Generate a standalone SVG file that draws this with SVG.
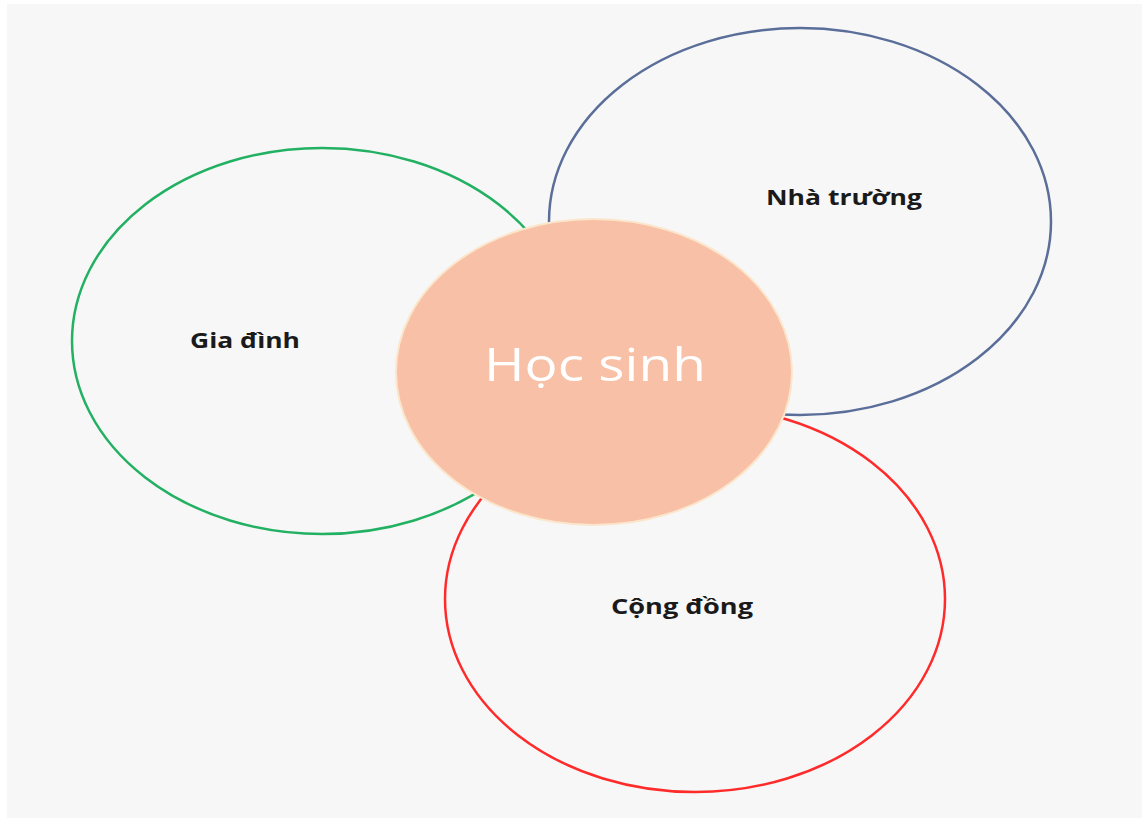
<svg xmlns="http://www.w3.org/2000/svg" width="1142" height="818" viewBox="0 0 1142 818">
<style>
.ring{fill:none;stroke-width:2.5}
.lbl{font-family:"Open Sans","Noto Sans",sans-serif;font-weight:bold;font-size:21px;fill:#1a1a1a;text-anchor:middle}
.main{font-family:"Open Sans","Noto Sans",sans-serif;font-size:45px;fill:#ffffff;text-anchor:middle}
</style>
<rect x="0" y="0" width="1142" height="818" fill="#ffffff"/>
<rect x="7" y="4" width="1135" height="814" fill="#f7f7f7"/>
<g id="connectors"></g>
<g id="gia-dinh">
<ellipse class="ring" cx="322" cy="341" rx="250" ry="193" stroke="#22b062"/>
<text class="lbl" x="245" y="348" textLength="110" lengthAdjust="spacingAndGlyphs">Gia đình</text>
</g>
<g id="nha-truong">
<ellipse class="ring" cx="800" cy="221.5" rx="251" ry="193.5" stroke="#5a6e99"/>
<text class="lbl" x="844" y="205" textLength="156" lengthAdjust="spacingAndGlyphs">Nhà trường</text>
</g>
<g id="cong-dong">
<ellipse class="ring" cx="695" cy="599" rx="250" ry="193" stroke="#ff2b2b"/>
<text class="lbl" x="682" y="614" textLength="142" lengthAdjust="spacingAndGlyphs">Cộng đồng</text>
</g>
<g id="hoc-sinh">
<ellipse cx="594" cy="372" rx="198" ry="153" fill="#f8c0a6" stroke="#fbe6cc" stroke-width="2"/>
<text class="main" x="595" y="381" textLength="222" lengthAdjust="spacingAndGlyphs">Học sinh</text>
</g>
</svg>
